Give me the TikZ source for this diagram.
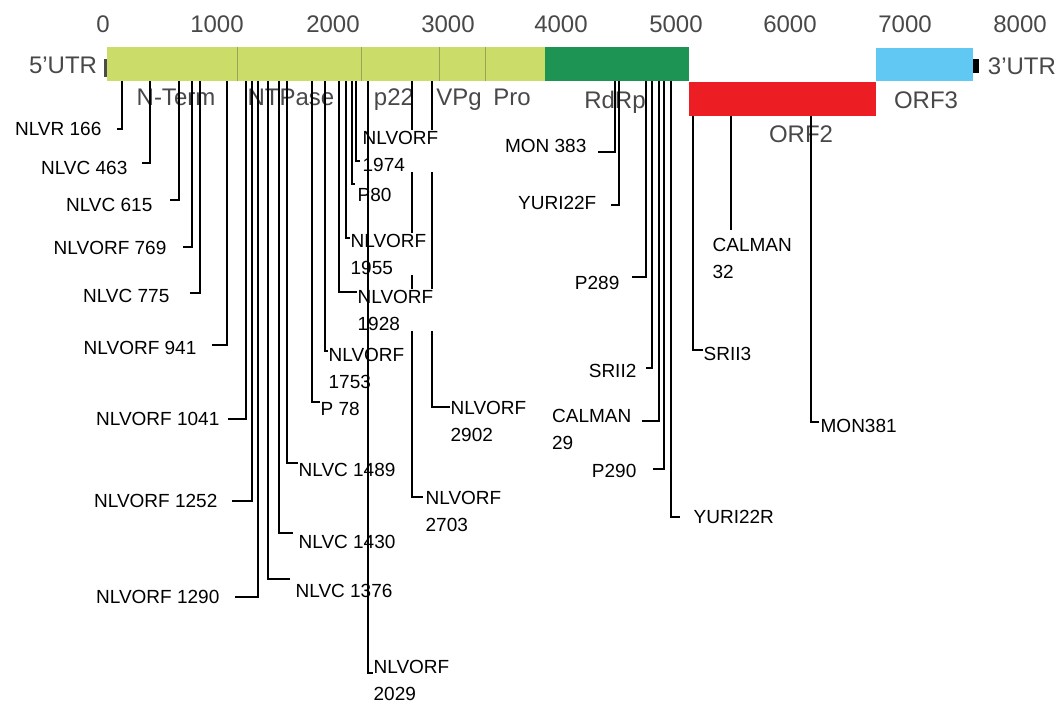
\documentclass[tikz,border=0pt]{standalone}
\usepackage{fontspec}
\setmainfont{Liberation Sans}
\usetikzlibrary{positioning}
\definecolor{orfone}{RGB}{203,221,104}
\definecolor{rdrp}{RGB}{30,148,84}
\definecolor{orftwo}{RGB}{236,30,36}
\definecolor{orfthree}{RGB}{96,200,242}
\definecolor{dimtext}{RGB}{72,72,72}
\definecolor{divider}{RGB}{150,166,86}

\begin{document}
\begin{tikzpicture}[x=1pt, y=-1pt, line width=1.3pt,
    lab/.style = {font=\fontsize{19}{27}\selectfont, inner sep=1pt, fill=white, align=left},
    reg/.style = {font=\fontsize{24}{27}\selectfont, text=dimtext, anchor=base}]
    \useasboundingbox (0,0) rectangle (1061,702);

    \fill[orfone] (107,47) rectangle (545,81);
    \draw[divider, line width=0.8pt] (237,47) -- (237,81) (361,47) -- (361,81) (439,47) -- (439,81) (485,47) -- (485,81);
    \fill[rdrp] (545,47) rectangle (689,81);
    \fill[orftwo] (689,82) rectangle (876,116);
    \fill[orfthree] (876,48) rectangle (973,81);
    \fill[black] (973,59) rectangle (979,73);
    \fill[black!70] (104,59) rectangle (107,77);

    \node[reg] (t0) at (103,32) {0};
    \node[reg] (t1) at (217,32) {1000};
    \node[reg] (t2) at (333,32) {2000};
    \node[reg] (t3) at (448,32) {3000};
    \node[reg] (t4) at (561,32) {4000};
    \node[reg] (t5) at (676,32) {5000};
    \node[reg] (t6) at (790,32) {6000};
    \node[reg] (t7) at (905,32) {7000};
    \node[reg] (t8) at (1020,32) {8000};
    \node[reg, anchor=base east] (utr5) at (101,73) {5’UTR};
    \node[reg, anchor=base west] (utr3) at (984,74) {3’UTR};
    \node[reg] (nterm) at (176,105) {N-Term};
    \node[reg] (ntpase) at (291,105) {NTPase};
    \node[reg] (p22) at (394,105) {p22};
    \node[reg] (vpg) at (459,105) {VPg};
    \node[reg] (pro) at (512,105) {Pro};
    \node[reg] (rdrp) at (615,108) {RdRp};
    \node[reg] (orf2) at (801,142) {ORF2};
    \node[reg] (orf3) at (926,108) {ORF3};

    \coordinate (b1) at (122,81); \coordinate (e1) at (117,129);
    \draw (b1) |- (e1);
    \node[lab, left=14pt of e1] (n1) {NLVR 166};
    \coordinate (b2) at (150,81); \coordinate (e2) at (142,163);
    \draw (b2) |- (e2);
    \node[lab, left=13pt of e2, yshift=-5pt] (n2) {NLVC 463};
    \coordinate (b3) at (179,81); \coordinate (e3) at (170,200);
    \draw (b3) |- (e3);
    \node[lab, left=16pt of e3, yshift=-5pt] (n3) {NLVC 615};
    \coordinate (b4) at (192,81); \coordinate (e4) at (183,247);
    \draw (b4) |- (e4);
    \node[lab, left=15pt of e4, yshift=-1pt] (n4) {NLVORF 769};
    \coordinate (b5) at (200,81); \coordinate (e5) at (190,293);
    \draw (b5) |- (e5);
    \node[lab, left=19pt of e5, yshift=-3pt] (n5) {NLVC 775};
    \coordinate (b6) at (227,81); \coordinate (e6) at (212,345);
    \draw (b6) |- (e6);
    \node[lab, left=14pt of e6, yshift=-3pt] (n6) {NLVORF 941};
    \coordinate (b7) at (246,81); \coordinate (e7) at (228,419);
    \draw (b7) |- (e7);
    \node[lab, left=7pt of e7] (n7) {NLVORF 1041};
    \coordinate (b8) at (252,81); \coordinate (e8) at (232,501);
    \draw (b8) |- (e8);
    \node[lab, left=13pt of e8] (n8) {NLVORF 1252};
    \coordinate (b9) at (258,81); \coordinate (e9) at (235,597);
    \draw (b9) |- (e9);
    \node[lab, left=14pt of e9] (n9) {NLVORF 1290};
    \coordinate (b10) at (268,81); \coordinate (e10) at (290,579);
    \draw (b10) |- (e10);
    \node[lab, right=4pt of e10, yshift=-12pt] (n10) {NLVC 1376};
    \coordinate (b11) at (279,81); \coordinate (e11) at (293,533);
    \draw (b11) |- (e11);
    \node[lab, right=4pt of e11, yshift=-9pt] (n11) {NLVC 1430};
    \coordinate (b12) at (287,81); \coordinate (e12) at (298,463);
    \draw (b12) |- (e12);
    \node[lab, right=-1pt of e12, yshift=-7pt] (n12) {NLVC 1489};
    \coordinate (b13) at (312,81); \coordinate (e13) at (320,402);
    \draw (b13) |- (e13);
    \node[lab, right=-1pt of e13, yshift=-7pt] (n13) {P 78};
    \coordinate (b14) at (325,81); \coordinate (e14) at (330,351);
    \draw (b14) |- (e14);
    \node[lab, right=-3pt of e14, yshift=-17pt] (n14) {NLVORF\\1753};
    \coordinate (b20) at (412,81); \coordinate (e20) at (423,497);
    \draw (b20) |- (e20);
    \node[lab, right=1pt of e20, yshift=-14pt] (n20) {NLVORF\\2703};
    \coordinate (b21) at (432,81); \coordinate (e21) at (450,407);
    \draw (b21) |- (e21);
    \node[lab, right=-1pt of e21, yshift=-14pt] (n21) {NLVORF\\2902};
    \coordinate (b15) at (339,81); \coordinate (e15) at (357,292);
    \draw (b15) |- (e15);
    \node[lab, right=-1pt of e15, yshift=-18pt] (n15) {NLVORF\\1928};
    \coordinate (b16) at (346,81); \coordinate (e16) at (350,238);
    \draw (b16) |- (e16);
    \node[lab, right=-1pt of e16, yshift=-16pt] (n16) {NLVORF\\1955};
    \coordinate (b17) at (352,81); \coordinate (e17) at (355,184);
    \draw (b17) |- (e17);
    \node[lab, right=1pt of e17, yshift=-11pt] (n17) {P80};
    \coordinate (b18) at (356,81); \coordinate (e18) at (360,161);
    \draw (b18) |- (e18);
    \node[lab, right=1pt of e18, yshift=10pt] (n18) {NLVORF\\1974};
    \coordinate (b19) at (368,81); \coordinate (e19) at (375,673);
    \draw (b19) |- (e19);
    \node[lab, right=-3pt of e19, yshift=-7pt] (n19) {NLVORF\\2029};

    \coordinate (b22) at (615,81); \coordinate (e22) at (598,152);
    \draw (b22) |- (e22);
    \node[lab, left=10pt of e22, yshift=6pt] (n22) {MON 383};
    \coordinate (b23) at (619,81); \coordinate (e23) at (611,205);
    \draw (b23) |- (e23);
    \node[lab, left=13pt of e23, yshift=2pt] (n23) {YURI22F};
    \coordinate (b24) at (646,81); \coordinate (e24) at (632,277);
    \draw (b24) |- (e24);
    \node[lab, left=11pt of e24, yshift=-6pt] (n24) {P289};
    \coordinate (b25) at (652,81); \coordinate (e25) at (646,368);
    \draw (b25) |- (e25);
    \node[lab, left=8pt of e25, yshift=-3pt] (n25) {SRII2};
    \coordinate (b26) at (659,81); \coordinate (e26) at (642,421);
    \draw (b26) |- (e26);
    \node[lab, left=9pt of e26, yshift=-8pt] (n26) {CALMAN\\29};
    \coordinate (b27) at (664,81); \coordinate (e27) at (653,469);
    \draw (b27) |- (e27);
    \node[lab, left=15pt of e27, yshift=-2pt] (n27) {P290};
    \coordinate (b28) at (671,81); \coordinate (e28) at (680,517);
    \draw (b28) |- (e28);
    \node[lab, right=12pt of e28] (n28) {YURI22R};
    \coordinate (b29) at (693,116); \coordinate (e29) at (703,350);
    \draw (b29) |- (e29);
    \node[lab, right=-1pt of e29, yshift=-4pt] (n29) {SRII3};
    \coordinate (b30) at (731,116); \coordinate (e30) at (731,230);
    \draw (b30) -- (e30);
    \node[lab, right=-20pt of e30, yshift=-28pt] (n30) {CALMAN\\32};
    \coordinate (b31) at (811,116); \coordinate (e31) at (819,422);
    \draw (b31) |- (e31);
    \node[lab, right=0pt of e31, yshift=-4pt] (n31) {MON381};
\end{tikzpicture}
\end{document}
